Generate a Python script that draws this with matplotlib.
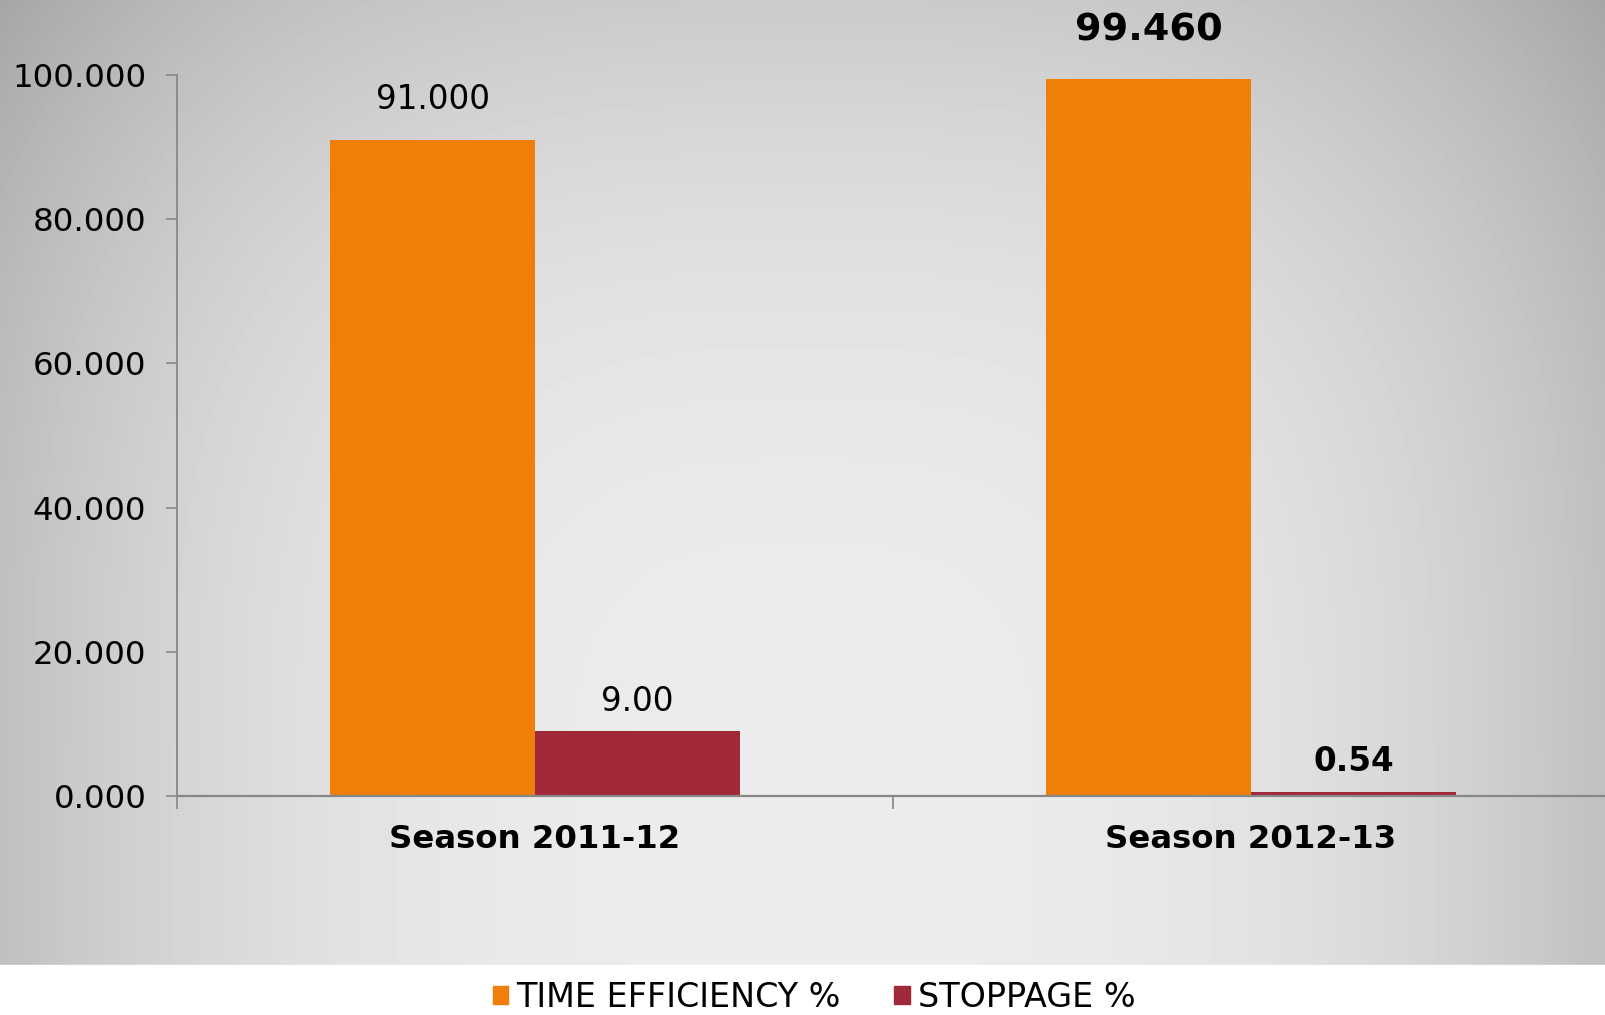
#!/usr/bin/env python3
import numpy as np
import matplotlib.pyplot as plt
from matplotlib.patches import Rectangle, Patch

# chart data
seasons = ["Season 2011-12", "Season 2012-13"]
efficiency = [91.000, 99.460]
stoppage = [9.00, 0.54]
efficiency_labels = ["91.000", "99.460"]
stoppage_labels = ["9.00", "0.54"]
y_ticks = [0, 20, 40, 60, 80, 100]

orange = "#F07F09"
maroon = "#A12838"
axis_grey = "#878787"

fig = plt.figure(figsize=(16.06, 10.15), dpi=100)

# grey background: light low in the middle, darker towards the sides and top
bg = fig.add_axes([0, 0, 1, 1], zorder=-10)
px, py = np.meshgrid(np.arange(0, 1606, 4), np.arange(0, 965, 4))
dx = np.abs(px - 803) / 803.0
dy = np.clip(800 - py, 0, None) / 800.0
drop = 44 * (dx ** 3 + (0.9 * dy) ** 3) ** 0.85
shade = np.clip(236 - drop, 0, 255) / 255.0
bg.imshow(shade, cmap="gray", vmin=0, vmax=1, extent=[0, 1, 0.049, 1],
          aspect="auto", origin="upper", interpolation="bilinear")
bg.add_patch(Rectangle((0, 0), 1, 0.049, color="white"))
bg.set_xlim(0, 1)
bg.set_ylim(0, 1)
bg.axis("off")

ax = fig.add_axes([0.1102, 0.2158, 0.8917, 0.7103])
ax.patch.set_alpha(0)

x = np.arange(len(seasons))
bar_w = 0.286
ax.bar(x - bar_w / 2, efficiency, bar_w, color=orange, label="TIME EFFICIENCY %")
ax.bar(x + bar_w / 2, stoppage, bar_w, color=maroon, label="STOPPAGE %")

# value labels; the second season is printed bold
ax.text(x[0] - bar_w / 2, efficiency[0] + 4.3, efficiency_labels[0],
        ha="center", va="baseline", fontsize=23.5)
ax.text(x[1] - bar_w / 2, efficiency[1] + 5.3, efficiency_labels[1],
        ha="center", va="baseline", fontsize=27.5, fontweight="bold", clip_on=False)
ax.text(x[0] + bar_w / 2, stoppage[0] + 2.75, stoppage_labels[0],
        ha="center", va="baseline", fontsize=23.5)
ax.text(x[1] + bar_w / 2, stoppage[1] + 2.9, stoppage_labels[1],
        ha="center", va="baseline", fontsize=23.5, fontweight="bold")

ax.set_xlim(-0.5, len(seasons) - 0.5)
ax.set_ylim(0, 100)
ax.set_yticks(y_ticks)
ax.set_yticklabels(["%.3f" % v for v in y_ticks])

# major ticks at category boundaries, labels on minor ticks at centres
ax.set_xticks(np.arange(-0.5, len(seasons), 1.0))
ax.set_xticklabels([])
ax.set_xticks(x, minor=True)
ax.set_xticklabels(seasons, minor=True, fontsize=23.3, fontweight="bold")
ax.tick_params(axis="x", which="major", length=9, width=1.2, color=axis_grey)
ax.tick_params(axis="x", which="minor", length=0, pad=20)
ax.tick_params(axis="y", length=8, width=1.2, color=axis_grey, labelsize=23.4, pad=14)

for side in ["top", "right"]:
    ax.spines[side].set_visible(False)
ax.spines["left"].set_color(axis_grey)
ax.spines["left"].set_linewidth(1.3)
ax.spines["bottom"].set_color(axis_grey)
ax.spines["bottom"].set_linewidth(1.6)

handles = [Patch(color=orange), Patch(color=maroon)]
fig.legend(handles, ["TIME EFFICIENCY %", "STOPPAGE %"], loc="center",
           bbox_to_anchor=(0.507, 0.0177), ncol=2, frameon=False,
           fontsize=24, handlelength=0.46, handleheight=0.46,
           handletextpad=0.25, columnspacing=1.6, borderpad=0)

fig.savefig("out.png", dpi=100)
